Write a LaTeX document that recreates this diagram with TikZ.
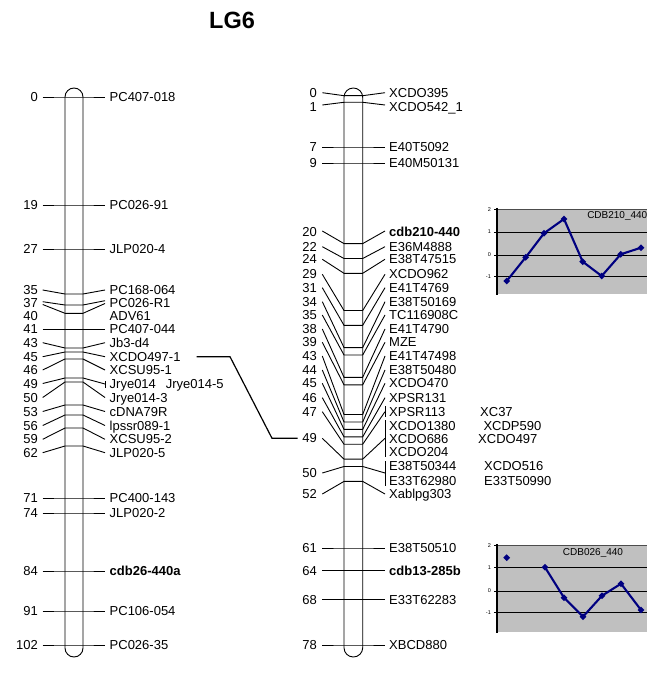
\documentclass[tikz,border=0pt]{standalone}
\usepackage{fontspec}
\setmainfont{Liberation Sans}
\usetikzlibrary{shapes.geometric}
\definecolor{navy}{RGB}{0,0,128}
\definecolor{chartgray}{RGB}{192,192,192}
\newcommand\mk[8]{%
 \node[lab,anchor=east] (n#1) at (\mNX,#2) {#7};
 \node[lab,anchor=west] (m#1) at (\mTX,#6) {#8};
 \coordinate (a#1) at (\mAX,#3);
 \coordinate (b#1) at (\mCL,#4);
 \coordinate (c#1) at (\mCR,#4);
 \coordinate (d#1) at (\mEX,#5);
 \draw[mline] (a#1) -- (b#1) -- (c#1) -- (d#1);
}
\begin{document}
\begin{tikzpicture}[x=1pt,y=-1pt,
  lab/.style={font=\fontsize{13}{15}\selectfont, inner sep=0pt, text height=9.3pt, text depth=0pt},
  mline/.style={line width=0.9pt},
  chrom/.style={line width=0.9pt},
  ticklab/.style={font=\fontsize{5.5}{6}\selectfont, inner sep=0pt, anchor=east},
  ser/.style={draw=navy, line width=2.1pt, line join=round},
  dia/.style={diamond, fill=navy, inner sep=0pt, minimum size=7pt},
  ctitle/.style={font=\fontsize{10}{12}\selectfont, inner sep=0pt},
]
\useasboundingbox (0,0) rectangle (651,684);
\node[font=\bfseries\fontsize{23.5}{26}\selectfont] (title) at (232,20) {LG6};

% chromosomes
\draw[chrom,rounded corners=9pt] (65,88) rectangle (83,657);
\draw[chrom,rounded corners=9.3pt] (344,88) rectangle (362.7,657);

% left chromosome markers
\def\mNX{38}\def\mAX{42.7}\def\mCL{65}\def\mCR{83}\def\mEX{105}\def\mTX{109.5}
\mk{L0}{97}{97}{97}{97}{97}{0}{PC407-018}
\mk{L19}{205}{205}{205}{205}{205}{19}{PC026-91}
\mk{L27}{249}{249}{249}{249}{249}{27}{JLP020-4}
\mk{L35}{290}{290}{294}{290}{290}{35}{PC168-064}
\mk{L37}{302.7}{301.7}{305}{300.7}{302.7}{37}{PC026-R1}
\mk{L40}{316}{304.5}{313.3}{303.5}{316}{40}{ADV61}
\mk{L41}{329.3}{329.3}{329.3}{329.3}{329.3}{41}{PC407-044}
\mk{L43}{342.7}{342.7}{348}{342.7}{342.7}{43}{Jb3-d4}
\mk{L45}{356.7}{356.7}{352}{356.7}{356.7}{45}{XCDO497-1}
\mk{L46}{370}{370}{359}{370}{370}{46}{XCSU95-1}
\mk{L49}{383.5}{383.5}{378}{384}{384}{49}{Jrye014}
\mk{L50}{397.5}{397.5}{382}{397.5}{397.5}{50}{Jrye014-3}
\mk{L53}{411.5}{411.5}{405}{411.5}{411.5}{53}{cDNA79R}
\mk{L56}{425.5}{425.5}{415}{425.5}{425.5}{56}{lpssr089-1}
\mk{L59}{439.3}{439.3}{428}{439.3}{439.3}{59}{XCSU95-2}
\mk{L62}{452.7}{452.7}{446}{452.7}{452.7}{62}{JLP020-5}
\mk{L71}{498}{498}{498}{498}{498}{71}{PC400-143}
\mk{L74}{513}{513}{513}{513}{513}{74}{JLP020-2}
\mk{L84}{571}{571}{571}{571}{571}{84}{\textbf{cdb26-440a}}
\mk{L91}{611}{611}{611}{611}{611}{91}{PC106-054}
\mk{L102}{645}{645}{645}{645}{645}{102}{PC026-35}
\node[lab,anchor=west] (jry5) at (165.7,384) {Jrye014-5};
\draw[mline] (105.7,381) -- (105.7,388);

% right chromosome markers
\def\mNX{317}\def\mAX{322.3}\def\mCL{344}\def\mCR{362.7}\def\mEX{385}\def\mTX{389}
\mk{R0}{93.3}{92.7}{95.7}{92.7}{93.3}{0}{XCDO395}
\mk{R1}{106.7}{105}{102.3}{105}{106.7}{1}{XCDO542\_1}
\mk{R7}{147}{147}{147}{147}{147}{7}{E40T5092}
\mk{R9}{163}{163}{163}{163}{163}{9}{E40M50131}
\mk{R20}{232}{231}{243.6}{231}{232}{20}{\textbf{cdb210-440}}
\mk{R22}{246.7}{246.7}{258.5}{246.7}{246.7}{22}{E36M4888}
\mk{R24}{259.3}{259.3}{273.3}{259.3}{259.3}{24}{E38T47515}
\mk{R29}{274.3}{274.3}{310.5}{274.3}{274.3}{29}{XCDO962}
\mk{R31}{287.7}{287.7}{325.3}{287.7}{287.7}{31}{E41T4769}
\mk{R34}{301.7}{301.7}{347.6}{301.7}{301.7}{34}{E38T50169}
\mk{R35}{315}{315}{355}{315}{315}{35}{TC116908C}
\mk{R38}{329}{329}{377.3}{329}{329}{38}{E41T4790}
\mk{R39}{342.3}{342.3}{384.8}{342.3}{342.3}{39}{MZE}
\mk{R43}{356}{356}{414.5}{356}{356}{43}{E41T47498}
\mk{R44}{370}{370}{422}{370}{370}{44}{E38T50480}
\mk{R45}{383.3}{383.3}{429.4}{383.3}{383.3}{45}{XCDO470}
\mk{R46}{397.7}{397.7}{436.8}{397.7}{397.7}{46}{XPSR131}
\mk{R47}{411.7}{411.7}{444.2}{411.7}{411.7}{47}{XPSR113}
\mk{R49}{438.3}{438.3}{459.1}{438.3}{439.3}{49}{XCDO686}
\mk{R50}{473}{473}{466.5}{473}{466}{50}{E38T50344}
\mk{R52}{494}{494}{481.4}{494}{494}{52}{Xablpg303}
\mk{R61}{548}{548}{548}{548}{548}{61}{E38T50510}
\mk{R64}{570.5}{570.5}{570.5}{570.5}{570.5}{64}{\textbf{cdb13-285b}}
\mk{R68}{599.5}{599.5}{599.5}{599.5}{599.5}{68}{E33T62283}
\mk{R78}{645}{645}{645}{645}{645}{78}{XBCD880}
\node[lab,anchor=west] (xa) at (389,426) {XCDO1380};
\node[lab,anchor=west] (xb) at (389,451.7) {XCDO204};
\node[lab,anchor=west] (xc) at (389,480.7) {E33T62980};
\node[lab,anchor=west] (xd) at (480,411.7) {XC37};
\node[lab,anchor=west] (xe) at (483.3,426) {XCDP590};
\node[lab,anchor=west] (xf) at (478,439.3) {XCDO497};
\node[lab,anchor=west] (xg) at (484,466) {XCDO516};
\node[lab,anchor=west] (xh) at (484,480.7) {E33T50990};
\draw[mline] (385.7,406) -- (385.7,417);
\draw[mline] (385.7,420) -- (385.7,457);
\draw[mline] (385.7,461) -- (385.7,486);

% link between maps
\coordinate (k1) at (230,356.7);
\coordinate (k2) at (272,438.3);
\draw[line width=1.2pt] ([xshift=16pt]mL45.east) -- (k1) -- (k2) -- ([xshift=-4.5pt]nR49.west);

% chart 1
\fill[chartgray] (497,209.5) rectangle (647,294);
\draw[gray!60!black,line width=0.6pt] (497,209.5) -- (647,209.5);
\foreach \yy in {232,255,276.5} \draw[line width=0.8pt] (497,\yy) -- (647,\yy);
\draw[line width=1.1pt] (497,208) -- (497,295);
\foreach \yy/\tl [count=\i] in {209.5/2,232/1,255/0,276.5/-1} {
  \draw[line width=0.6pt] (494,\yy) -- (497,\yy);
  \node[ticklab] (ta\i) at (491,\yy) {\tl};
}
\draw[ser] (506.7,281) -- (525.7,257.3) -- (544,233.3) -- (564,219) -- (582.7,261.7) -- (601.7,276) -- (620.7,254.3) -- (641,247.7);
\foreach \px/\py [count=\i] in {506.7/281,525.7/257.3,544/233.3,564/219,582.7/261.7,601.7/276,620.7/254.3,641/247.7}
  \node[dia] (da\i) at (\px,\py) {};
\node[ctitle,anchor=east] (ct1) at (647.5,216) {CDB210\_440};

% chart 2
\fill[chartgray] (497,545) rectangle (647,632);
\draw[gray!60!black,line width=0.6pt] (497,545) -- (647,545);
\foreach \yy in {567.3,591,612.3} \draw[line width=0.8pt] (497,\yy) -- (647,\yy);
\draw[line width=1.1pt] (497,544) -- (497,633);
\foreach \yy/\tl [count=\i] in {545.5/2,567.3/1,591/0,612.3/-1} {
  \draw[line width=0.6pt] (494,\yy) -- (497,\yy);
  \node[ticklab] (tb\i) at (491,\yy) {\tl};
}
\draw[ser] (545,567.3) -- (564,597.7) -- (583,616.7) -- (602,595.7) -- (621,583.7) -- (641,610);
\foreach \px/\py [count=\i] in {506.7/557.7,545/567.3,564/597.7,583/616.7,602/595.7,621/583.7,641/610}
  \node[dia] (db\i) at (\px,\py) {};
\node[ctitle] (ct2) at (593,553.3) {CDB026\_440};
\end{tikzpicture}
\end{document}
